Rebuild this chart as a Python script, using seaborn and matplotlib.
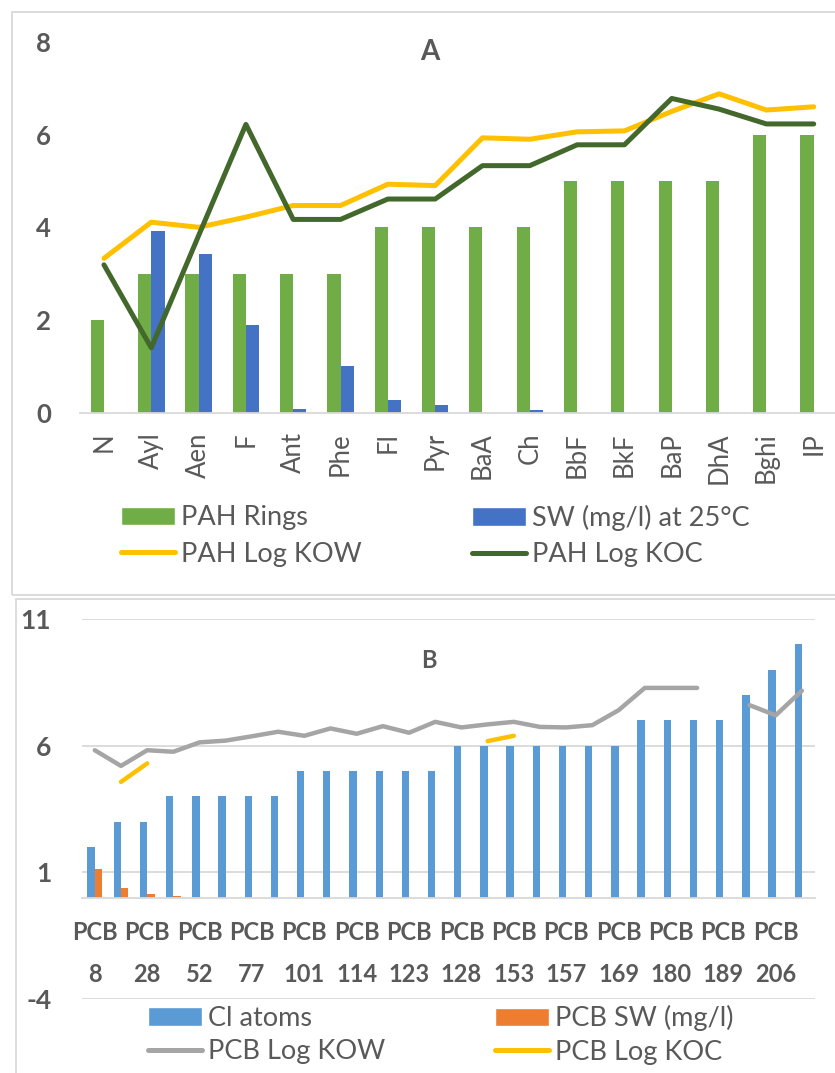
import matplotlib
matplotlib.use("Agg")
import matplotlib.pyplot as plt
import numpy as np
import pandas as pd
import seaborn as sns
from matplotlib.lines import Line2D
from matplotlib.patches import Patch, Rectangle

nan = np.nan

# ---- panel A: PAHs
pah = ['N', 'Ayl', 'Aen', 'F', 'Ant', 'Phe', 'Fl', 'Pyr', 'BaA', 'Ch', 'BbF', 'BkF', 'BaP', 'DhA', 'Bghi', 'IP']
pah_rings = [2, 3, 3, 3, 3, 3, 4, 4, 4, 4, 5, 5, 5, 5, 6, 6]
pah_sw = [nan, 3.93, 3.42, 1.9, 0.07, 1.0, 0.27, 0.16, nan, 0.05, nan, nan, nan, nan, nan, nan]
pah_kow = [3.33, 4.11, 4.0, 4.22, 4.47, 4.47, 4.93, 4.9, 5.93, 5.9, 6.06, 6.08, 6.5, 6.88, 6.53, 6.6]
pah_koc = [3.19, 1.4, 3.82, 6.22, 4.17, 4.17, 4.61, 4.61, 5.33, 5.33, 5.78, 5.78, 6.78, 6.55, 6.23, 6.23]

# ---- panel B: PCBs (only every other label is shown on the axis)
pcb = ['PCB 8', 'PCB 18', 'PCB 28', 'PCB 44', 'PCB 52', 'PCB 66', 'PCB 77', 'PCB 81',
       'PCB 101', 'PCB 105', 'PCB 114', 'PCB 118', 'PCB 123', 'PCB 126', 'PCB 128', 'PCB 138',
       'PCB 153', 'PCB 156', 'PCB 157', 'PCB 167', 'PCB 169', 'PCB 170', 'PCB 180', 'PCB 187',
       'PCB 189', 'PCB 195', 'PCB 206', 'PCB 209']
cl_atoms = [2, 3, 3, 4, 4, 4, 4, 4, 5, 5, 5, 5, 5, 5, 6, 6, 6, 6, 6, 6, 6, 7, 7, 7, 7, 8, 9, 10]
pcb_sw = [1.15, 0.38, 0.13, 0.07] + [nan] * 24
pcb_kow = [5.82, 5.2, 5.82, 5.76, 6.13, 6.2, 6.37, 6.55, 6.39, 6.68, 6.47, 6.77, 6.51, 6.94,
           6.72, 6.84, 6.94, 6.74, 6.72, 6.81, 7.4, 8.28, 8.28, 8.28, nan, 7.6, 7.2, 8.17]
pcb_koc = [nan, 4.57, 5.3] + [nan] * 12 + [6.18, 6.39] + [nan] * 11

GREEN, BLUE, YELLOW, DKGREEN = '#70AD47', '#4472C4', '#FFC000', '#43682B'
BLUE2, ORANGE, GREY = '#5B9BD5', '#ED7D31', '#A5A5A5'
TXT = '#595959'
LINE = '#D9D9D9'

sns.set_theme(style='white')
plt.rcParams['font.family'] = ['Lato', 'DejaVu Sans']
plt.rcParams['text.color'] = TXT
plt.rcParams['xtick.color'] = TXT
plt.rcParams['ytick.color'] = TXT
plt.rcParams['axes.unicode_minus'] = False

W, H = 835, 1073
fig = plt.figure(figsize=(W / 100, H / 100), dpi=100)


def fx(px):
    return px / W


def fy(py):
    return 1 - py / H


def segments(vals):
    # split a series at missing values so the line keeps its gaps
    v = pd.Series(vals)
    return v.isna().cumsum()


# panel borders
fig.add_artist(Rectangle((fx(11.7), fy(595)), 1.2, fy(11.7) - fy(595), transform=fig.transFigure,
                         fill=False, edgecolor=LINE, lw=1.3))
fig.add_artist(Rectangle((fx(15.7), -0.2), 1.2, fy(599) + 0.2, transform=fig.transFigure,
                         fill=False, edgecolor=LINE, lw=1.3))

leg_kw = dict(loc='center left', frameon=False, fontsize=19.5, handlelength=2.0, handleheight=0.68,
              handletextpad=0.22, borderpad=0, borderaxespad=0)

# ================= A =================
axA = fig.add_axes([fx(80.3), fy(412.7), 1 - fx(80.3), fy(41.9) - fy(412.7)])
barsA = pd.DataFrame({'cat': pah * 2,
                      'series': ['PAH Rings'] * len(pah) + ['SW'] * len(pah),
                      'value': pah_rings + pah_sw})
sns.barplot(data=barsA, x='cat', y='value', hue='series', palette=[GREEN, BLUE], width=0.56,
            saturation=1, linewidth=0, errorbar=None, legend=False, ax=axA)
linesA = pd.DataFrame({'pos': np.arange(len(pah)), 'kow': pah_kow, 'koc': pah_koc})
sns.lineplot(data=linesA, x='pos', y='kow', color=YELLOW, lw=3.6, solid_joinstyle='round', ax=axA)
sns.lineplot(data=linesA, x='pos', y='koc', color=DKGREEN, lw=3.6, solid_joinstyle='round', ax=axA)

axA.set_ylim(0, 8)
axA.set_yticks([0, 2, 4, 6, 8])
axA.set_xlim(-0.5, 15.45)
axA.set_xlabel('')
axA.set_ylabel('')
for s in ['top', 'right', 'left']:
    axA.spines[s].set_visible(False)
axA.spines['bottom'].set_color(LINE)
axA.spines['bottom'].set_linewidth(1.3)
axA.tick_params(axis='y', length=0, pad=21, labelsize=18.5)
axA.tick_params(axis='x', length=0, pad=14, labelsize=18.5, rotation=90)
axA.patch.set_alpha(0)
fig.text(fx(430), fy(52), 'A', ha='center', va='center', fontsize=20, fontweight='bold', color=TXT)

fig.legend(handles=[Patch(facecolor=GREEN), Line2D([], [], color=YELLOW, lw=3.6, solid_capstyle='round')],
           labels=['PAH Rings', 'PAH Log KOW'], bbox_to_anchor=(fx(121), fy(536)),
           labelspacing=0.42, **leg_kw)
fig.legend(handles=[Patch(facecolor=BLUE), Line2D([], [], color=DKGREEN, lw=3.6, solid_capstyle='round')],
           labels=['SW (mg/l) at 25°C', 'PAH Log KOC'], bbox_to_anchor=(fx(472), fy(536)),
           labelspacing=0.42, **leg_kw)

# ================= B =================
axB = fig.add_axes([fx(81.7), fy(999), fx(815) - fx(81.7), fy(619) - fy(999)])
barsB = pd.DataFrame({'cat': pcb * 2,
                      'series': ['Cl atoms'] * len(pcb) + ['PCB SW (mg/l)'] * len(pcb),
                      'value': cl_atoms + pcb_sw})
sns.barplot(data=barsB, x='cat', y='value', hue='series', palette=[BLUE2, ORANGE], width=0.56,
            saturation=1, linewidth=0, errorbar=None, legend=False, ax=axB)
linesB = pd.DataFrame({'pos': np.arange(len(pcb)), 'kow': pcb_kow, 'koc': pcb_koc,
                       'seg_kow': segments(pcb_kow), 'seg_koc': segments(pcb_koc)})
sns.lineplot(data=linesB, x='pos', y='kow', units='seg_kow', estimator=None, color=GREY, lw=3.2,
             solid_capstyle='round', solid_joinstyle='round', ax=axB)
sns.lineplot(data=linesB, x='pos', y='koc', units='seg_koc', estimator=None, color=YELLOW, lw=3.2,
             solid_capstyle='round', solid_joinstyle='round', ax=axB)

axB.set_ylim(-4, 11)
axB.set_yticks([-4, 1, 6, 11])
axB.set_xlim(-0.5, len(pcb) - 0.5)
axB.set_xticks(np.arange(0, len(pcb), 2))
axB.set_xticklabels([p.replace(' ', '\n') for p in pcb[::2]])
axB.set_xlabel('')
axB.set_ylabel('')
axB.grid(axis='y', color=LINE, lw=1.3)
axB.set_axisbelow(True)
for s in ['top', 'right', 'left']:
    axB.spines[s].set_visible(False)
axB.spines['bottom'].set_position(('data', 0))
axB.spines['bottom'].set_color(LINE)
axB.spines['bottom'].set_linewidth(1.3)
axB.tick_params(axis='y', length=0, pad=22, labelsize=19)
axB.tick_params(axis='x', length=0, pad=17, labelsize=17)
axB.patch.set_alpha(0)
fig.text(fx(428.5), fy(660), 'B', ha='center', va='center', fontsize=17, fontweight='bold', color=TXT)

fig.legend(handles=[Patch(facecolor=BLUE2), Line2D([], [], color=GREY, lw=3.6, solid_capstyle='round')],
           labels=['Cl atoms', 'PCB Log KOW'], bbox_to_anchor=(fx(148), fy(1035)),
           labelspacing=0.3, **leg_kw)
fig.legend(handles=[Patch(facecolor=ORANGE), Line2D([], [], color=YELLOW, lw=3.6, solid_capstyle='round')],
           labels=['PCB SW (mg/l)', 'PCB Log KOC'], bbox_to_anchor=(fx(495), fy(1035)),
           labelspacing=0.3, **leg_kw)

# bold tick labels (applied after a draw so the tick objects are final)
fig.canvas.draw()
for t in axA.get_yticklabels() + axB.get_yticklabels():
    t.set_fontweight('bold')
for t in axB.get_xticklabels():
    t.set_fontweight('bold')
    t.set_linespacing(2.0)

fig.savefig('out.png', dpi=100)
